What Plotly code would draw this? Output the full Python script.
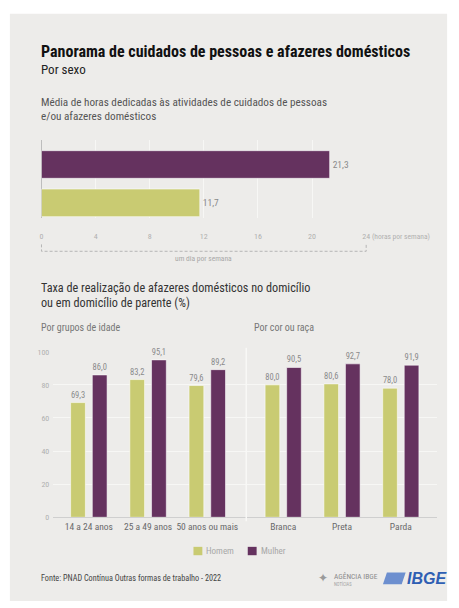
import plotly.graph_objects as go

# ---------------- data ----------------
sexos = ["Homem", "Mulher"]
horas_semana = [11.7, 21.3]

grupos_idade = ["14 a 24 anos", "25 a 49 anos", "50 anos ou mais"]
idade_homem = [69.3, 83.2, 79.6]
idade_mulher = [86.0, 95.1, 89.2]

cor_raca = ["Branca", "Preta", "Parda"]
raca_homem = [80.0, 80.6, 78.0]
raca_mulher = [90.5, 92.7, 91.9]

ticks_horas = [0, 4, 8, 12, 16, 20, 24]
ticks_taxa = [0, 20, 40, 60, 80, 100]

# ---------------- style ----------------
W, H = 459, 608
FONT = "Roboto Condensed, Roboto, Arial, sans-serif"
C_H = "#c9cb72"
C_M = "#65325f"
BG = "#edecea"
GRID = "#f7f7f5"


def X(px):
    return px / W


def Y(py):
    return 1 - py / H


fig = go.Figure()

bar_line = dict(color="rgba(255,255,255,0.55)", width=1)
val_font = dict(family=FONT, size=8.5, color="#8a8a8a")

# chart 1: horizontal bars
fig.add_trace(go.Bar(
    y=sexos, x=horas_semana, orientation="h",
    marker=dict(color=[C_H, C_M], line=bar_line),
    width=0.72,
    texttemplate="%{x:.1f}", textposition="outside",
    textfont=dict(family=FONT, size=9.5, color="#8a8a8a"),
    cliponaxis=False, showlegend=False, hoverinfo="skip",
    xaxis="x", yaxis="y",
))

# chart 2 left
fig.add_trace(go.Bar(
    x=grupos_idade, y=idade_homem, name="Homem", showlegend=False,
    marker=dict(color=C_H, line=bar_line),
    texttemplate="%{y:.1f}", textposition="outside", textfont=val_font,
    cliponaxis=False, xaxis="x2", yaxis="y2",
))
fig.add_trace(go.Bar(
    x=grupos_idade, y=idade_mulher, name="Mulher", showlegend=False,
    marker=dict(color=C_M, line=bar_line),
    texttemplate="%{y:.1f}", textposition="outside", textfont=val_font,
    cliponaxis=False, xaxis="x2", yaxis="y2",
))
# chart 2 right
fig.add_trace(go.Bar(
    x=cor_raca, y=raca_homem, name="Homem", showlegend=False,
    marker=dict(color=C_H, line=bar_line),
    texttemplate="%{y:.1f}", textposition="outside", textfont=val_font,
    cliponaxis=False, xaxis="x3", yaxis="y3",
))
fig.add_trace(go.Bar(
    x=cor_raca, y=raca_mulher, name="Mulher", showlegend=False,
    marker=dict(color=C_M, line=bar_line),
    texttemplate="%{y:.1f}", textposition="outside", textfont=val_font,
    cliponaxis=False, xaxis="x3", yaxis="y3",
))

tickfont_light = dict(family=FONT, size=8, color="#b0b0b0")
catfont = dict(family=FONT, size=9.5, color="#6a6a6a")

fig.update_layout(
    width=W, height=H,
    margin=dict(l=0, r=0, t=0, b=0),
    paper_bgcolor="white", plot_bgcolor="rgba(0,0,0,0)",
    separators=",.",
    barmode="group", bargap=0.267, bargroupgap=0.32,
    font=dict(family=FONT),
    showlegend=False,
    xaxis=dict(domain=[X(40), X(369)], range=[0, 24], tickvals=ticks_horas,
               showgrid=True, gridcolor=GRID, gridwidth=1,
               zeroline=True, zerolinecolor="#bdbdbd", zerolinewidth=1,
               showline=False, ticks="", tickfont=tickfont_light,
               ticklabelstandoff=12, anchor="y", fixedrange=True),
    yaxis=dict(domain=[Y(217), Y(138)], type="category",
               categoryorder="array", categoryarray=sexos,
               range=[-0.39, 1.64], showticklabels=False, showgrid=False,
               zeroline=False, showline=False, anchor="x", fixedrange=True),
    xaxis2=dict(domain=[X(52), X(247)], range=[-0.6, 2.65], type="category",
                showline=True, linecolor="#cfcfcf", linewidth=1, ticks="",
                tickfont=catfont, tickangle=0, showgrid=False, anchor="y2", fixedrange=True),
    yaxis2=dict(domain=[Y(521), Y(353)], range=[0, 100], tickvals=ticks_taxa,
                showgrid=True, gridcolor=GRID, zeroline=False, showline=False,
                tickfont=tickfont_light, ticks="", ticklabelstandoff=3,
                anchor="x2", fixedrange=True),
    xaxis3=dict(domain=[X(248), X(441)], range=[-0.62, 2.62], type="category",
                showline=True, linecolor="#cfcfcf", linewidth=1, ticks="",
                tickfont=catfont, tickangle=0, showgrid=False, anchor="y3", fixedrange=True),
    yaxis3=dict(domain=[Y(521), Y(353)], range=[0, 100], tickvals=ticks_taxa,
                showgrid=True, gridcolor=GRID, zeroline=False, showline=False,
                showticklabels=False, anchor="x3", fixedrange=True),
)

shapes = [
    dict(type="rect", xref="paper", yref="paper", x0=X(8), x1=X(451), y0=Y(606), y1=Y(10),
         fillcolor=BG, line=dict(width=0), layer="below"),
    # separator between the two panels
    dict(type="line", xref="paper", yref="paper", x0=X(247.5), x1=X(247.5), y0=Y(525), y1=Y(349),
         line=dict(color="#f8f8f6", width=1.5)),
    # dashed bracket "um dia por semana"
    dict(type="path", xref="paper", yref="paper",
         path=f"M {X(40)} {Y(244)} L {X(40)} {Y(251)} L {X(369)} {Y(251)} L {X(369)} {Y(244)}",
         line=dict(color="#b5b5b5", width=1, dash="3px,2px")),
    # legend swatches
    dict(type="rect", xref="paper", yref="paper", x0=X(194), x1=X(203), y0=Y(559.5), y1=Y(551),
         fillcolor=C_H, line=dict(width=0)),
    dict(type="rect", xref="paper", yref="paper", x0=X(249), x1=X(258), y0=Y(559.5), y1=Y(551),
         fillcolor=C_M, line=dict(width=0)),
    # IBGE logo mark
    dict(type="path", xref="paper", yref="paper",
         path=f"M {X(390)} {Y(577)} L {X(409)} {Y(577)} L {X(405)} {Y(589)} L {X(386)} {Y(589)} Z",
         fillcolor="#6d8fcf", line=dict(width=0)),
]


def ann(text, px, py, size, color, bold=False, xanchor="left", italic=False, family=FONT):
    if bold:
        text = f"<b>{text}</b>"
    if italic:
        text = f"<i>{text}</i>"
    return dict(text=text, x=X(px), y=Y(py), xref="paper", yref="paper",
                xanchor=xanchor, yanchor="middle", showarrow=False,
                font=dict(family=family, size=size, color=color))


annotations = [
    ann("Panorama de cuidados de pessoas e afazeres domésticos", 37, 48, 16, "#111111", bold=True),
    ann("Por sexo", 37, 66, 13, "#222222"),
    ann("Média de horas dedicadas às atividades de cuidados de pessoas", 37, 100, 11.2, "#555555"),
    ann("e/ou afazeres domésticos", 37, 114.5, 11.2, "#555555"),
    ann("(horas por semana)", 373, 236, 7.5, "#b0b0b0"),
    ann("um dia por semana", 204, 258, 7.5, "#a8a8a8", xanchor="center"),
    ann("Taxa de realização de afazeres domésticos no domicílio", 37, 288, 12.2, "#333333"),
    ann("ou em domicílio de parente (%)", 37, 303, 12.2, "#333333"),
    ann("Por grupos de idade", 37, 328, 10, "#777777"),
    ann("Por cor ou raça", 253, 328, 10, "#777777"),
    ann("Homem", 205, 555.5, 9, "#a8a8a8"),
    ann("Mulher", 260, 555.5, 9, "#a8a8a8"),
    ann("Fonte: PNAD Contínua Outras formas de trabalho - 2022", 37, 583, 8.2, "#444444"),
    ann("AGÊNCIA IBGE", 334, 581, 7.5, "#8a8a8a"),
    ann("NOTÍCIAS", 334, 588.5, 4.5, "#a0a0a0"),
    ann("✦", 318, 583, 12, "#9a9a9a"),
    ann("IBGE", 408, 583, 16, "#2f5fb3", bold=True, italic=True,
        family="Liberation Sans, Arial, sans-serif"),
]

fig.update_layout(shapes=shapes, annotations=annotations)
fig.write_html("out.html", config={"displayModeBar": False},
               post_script="document.body.style.margin='0';")
